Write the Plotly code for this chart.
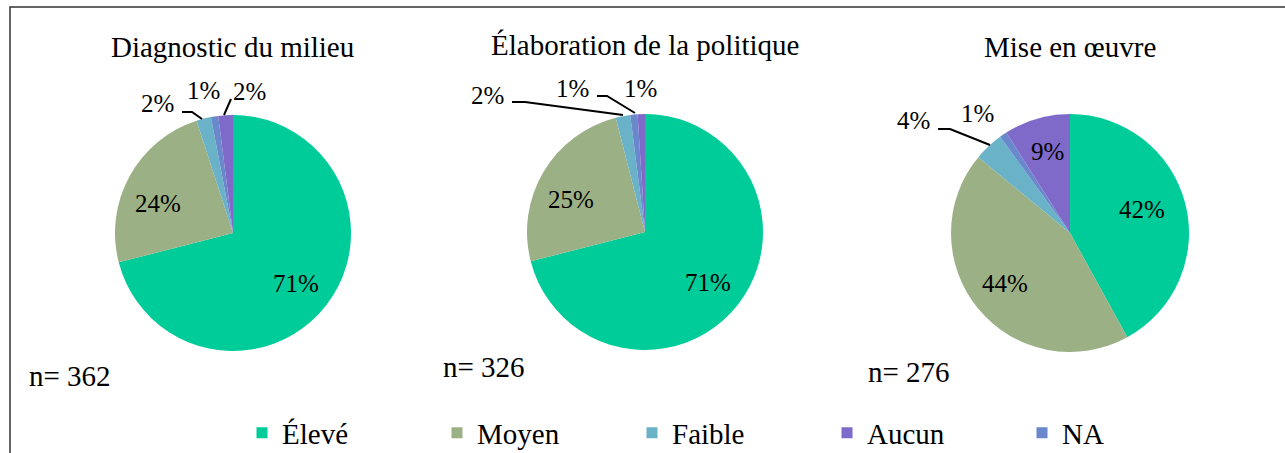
import plotly.graph_objects as go

W, H = 1285, 453

# ---- data ----
slice_labels = ["Élevé", "Moyen", "Faible", "NA", "Aucun"]   # clockwise drawing order
legend_order = ["Élevé", "Moyen", "Faible", "Aucun", "NA"]
colors = {"Élevé": "#00CC99", "Moyen": "#9CB085", "Faible": "#6AB2C8",
          "Aucun": "#7F6AC9", "NA": "#6A88CC"}

titles = ["Diagnostic du milieu", "Élaboration de la politique", "Mise en œuvre"]
diag_values = [71, 24, 2, 1, 2]
elab_values = [71, 25, 2, 1, 1]
mise_values = [42, 44, 4, 1, 9]
n_values = [362, 326, 276]

all_values = [diag_values, elab_values, mise_values]

# ---- layout helpers (pixel -> paper) ----
def px(x, y):
    return x / W, 1 - y / H

pies = [(233, 233, 118), (645, 232, 118), (1070, 233, 119)]
FONT = "Liberation Serif"
FS_PCT = 25
FS_TXT = 29

fig = go.Figure()

for k, (vals, (cx, cy, r)) in enumerate(zip(all_values, pies)):
    x0, y1 = px(cx - r, cy - r)
    x1, y0 = px(cx + r, cy + r)
    fig.add_trace(go.Pie(
        labels=slice_labels, values=vals, sort=False, direction="clockwise",
        rotation=0, domain=dict(x=[x0, x1], y=[y0, y1]),
        marker=dict(colors=[colors[l] for l in slice_labels], line=dict(width=0)),
        textinfo="none", showlegend=False, hoverinfo="label+percent",
    ))

# legend via dummy traces (legend order differs from slice order)
for lab in legend_order:
    fig.add_trace(go.Scatter(x=[None], y=[None], mode="markers", name=lab,
                             marker=dict(symbol="square", size=11, color=colors[lab])))

annotations = []
def add_text(text, x, y, size, xanchor="center"):
    ax, ay = px(x, y)
    annotations.append(dict(text=text, x=ax, y=ay, xref="paper", yref="paper",
                            xanchor=xanchor, yanchor="middle", showarrow=False,
                            font=dict(family=FONT, size=size, color="black")))

# chart titles
title_pos = [(232, 47), (645, 45), (1070, 47)]
for t, (x, y) in zip(titles, title_pos):
    add_text(t, x, y, FS_TXT)
# n labels
n_pos = [(27, 376), (441, 367), (866, 372)]
for n, (x, y) in zip(n_values, n_pos):
    add_text(f"n= {n}", x, y, FS_TXT, xanchor="left")

# percentage labels (chart index, slice index, label centre)
pct_labels = [
    (0, 0, (296, 283)), (0, 1, (158, 203)),
    (0, 2, (157, 103)), (0, 3, (203, 90)), (0, 4, (249, 91)),
    (1, 0, (708, 282)), (1, 1, (571, 199)),
    (1, 2, (487, 96)), (1, 3, (572, 88)), (1, 4, (640, 88)),
    (2, 0, (1142, 210)), (2, 1, (1005, 283)),
    (2, 2, (913, 120)), (2, 3, (977, 114)), (2, 4, (1047, 152)),
]
for k, i, (x, y) in pct_labels:
    add_text(f"{all_values[k][i]}%", x, y, FS_PCT)

# leader lines
leaders = [
    [(182, 112), (192, 112), (202, 119)],
    [(231, 99), (224, 115)],
    [(512, 102), (525, 102), (623, 115)],
    [(597, 96), (607, 96), (635, 113)],
    [(938, 129), (950, 129), (990, 145)],
]
shapes = []
for pts in leaders:
    path = ""
    for j, (x, y) in enumerate(pts):
        a, b = px(x, y)
        path += ("M" if j == 0 else " L") + f" {a} {b}"
    shapes.append(dict(type="path", path=path, xref="paper", yref="paper",
                       line=dict(color="black", width=2)))

# outer frame
fx, fy = px(10, 7)
shapes.append(dict(type="path", xref="paper", yref="paper",
                   path=f"M {fx} -0.05 L {fx} {fy} L 1.05 {fy}",
                   line=dict(color="#333333", width=1.5)))

lx, ly = px(242, 433)
fig.update_layout(
    width=W, height=H, autosize=False,
    margin=dict(l=0, r=0, t=0, b=0, autoexpand=False),
    paper_bgcolor="white", plot_bgcolor="white",
    xaxis=dict(visible=False), yaxis=dict(visible=False),
    annotations=annotations, shapes=shapes,
    legend=dict(orientation="h", x=lx, y=ly, xanchor="left", yanchor="middle",
                font=dict(family=FONT, size=FS_TXT, color="black"),
                entrywidth=150, entrywidthmode="pixels",
                bgcolor="rgba(0,0,0,0)", tracegroupgap=0),
    font=dict(family=FONT),
)

fig.write_html("out.html", config={"displayModeBar": False},
               post_script="document.body.style.margin='0';")
